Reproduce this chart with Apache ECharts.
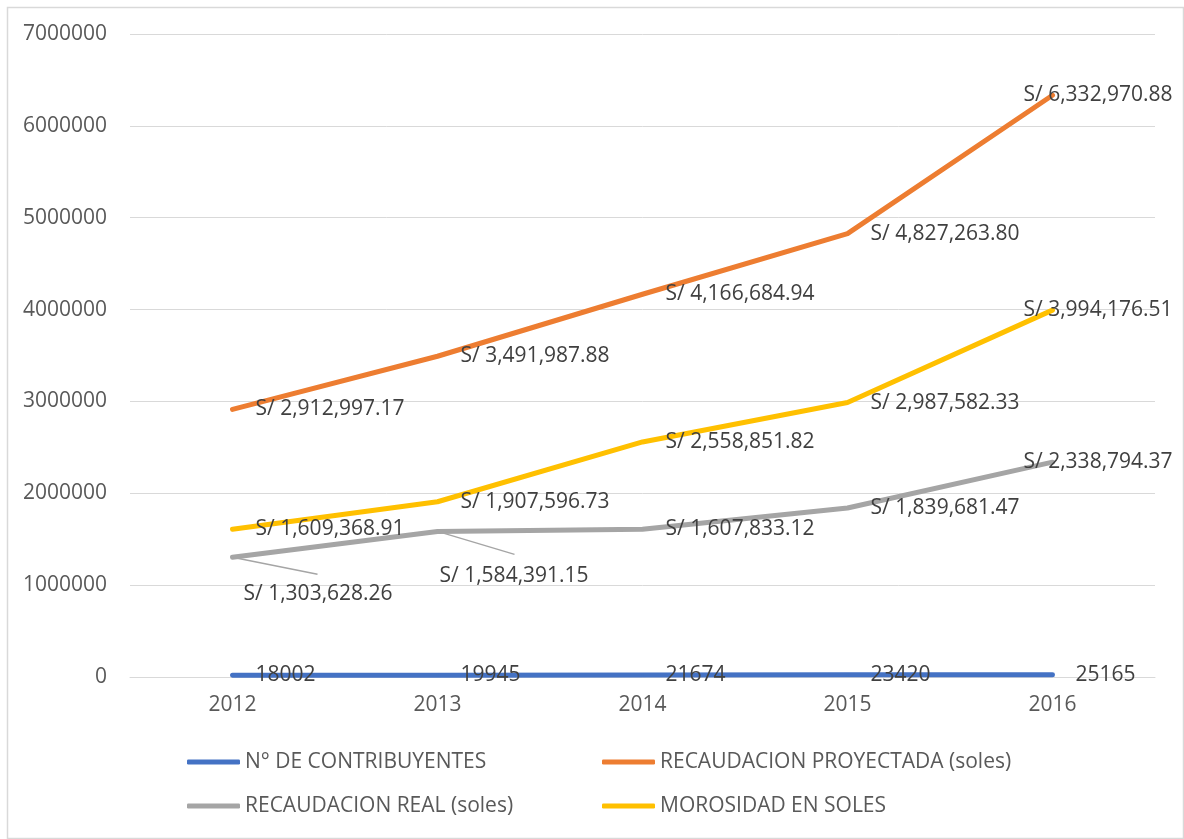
<!DOCTYPE html>
<html>
<head>
<meta charset="utf-8">
<script src="https://cdn.jsdelivr.net/npm/echarts@6/dist/echarts.min.js"></script>
<style>
html,body{margin:0;padding:0;background:#fff;}
#chart{width:1184px;height:839px;}
</style>
</head>
<body>
<div id="chart"></div>
<script>
const years = ['2012', '2013', '2014', '2015', '2016'];
const contribuyentes = [18002, 19945, 21674, 23420, 25165];
const proyectada = [2912997.17, 3491987.88, 4166684.94, 4827263.80, 6332970.88];
const real = [1303628.26, 1584391.15, 1607833.12, 1839681.47, 2338794.37];
const morosidad = [1609368.91, 1907596.73, 2558851.82, 2987582.33, 3994176.51];
const yMin = 0, yMax = 7000000, yStep = 1000000;
const names = ['N° DE CONTRIBUYENTES', 'RECAUDACION PROYECTADA (soles)', 'RECAUDACION REAL (soles)', 'MOROSIDAD EN SOLES'];
const colors = ['#4472C4', '#ED7D31', '#A5A5A5', '#FFC000'];

const FONT = '"Open Sans", "Noto Sans", sans-serif';
const soles = v => 'S/ ' + Number(v).toLocaleString('en-US', {minimumFractionDigits: 2, maximumFractionDigits: 2});

function mkSeries(i, data, fmt, layoutFn) {
  return {
    name: names[i],
    type: 'line',
    data: data,
    symbol: 'circle',
    symbolSize: 2,
    showSymbol: true,
    itemStyle: {color: colors[i]},
    lineStyle: {color: colors[i], width: 5, cap: 'round', join: 'round'},
    label: {
      show: true, position: 'right', distance: 22,
      formatter: p => fmt(p.value),
      color: '#404040', fontFamily: FONT, fontSize: 21
    },
    labelLayout: layoutFn,
    emphasis: {disabled: true},
    z: 2 + i
  };
}

// label offsets (pixels) for moved labels, and their leader-line end offsets
const lastShift = p => p.dataIndex === 4 ? {dx: -52} : {};
const realMoves = {0: [-12, 37], 1: [-21, 45], 4: [-52, 0]};
const leaderEnds = {0: [85, 17], 1: [77, 23]};
const realShift = p => {
  const m = realMoves[p.dataIndex];
  return m ? {dx: m[0], dy: m[1]} : {};
};

const chart = echarts.init(document.getElementById('chart'), null, {renderer: 'canvas'});
chart.setOption({
  animation: false,
  backgroundColor: '#fff',
  graphic: [{
    type: 'rect', left: 5, top: 5,
    shape: {width: 1176, height: 831},
    style: {fill: 'none', stroke: '#D9D9D9', lineWidth: 1.5},
    silent: true, z: 0
  }],
  grid: {left: 130, right: 29, top: 34, bottom: 162},
  xAxis: {
    type: 'category', data: years, boundaryGap: true,
    axisLine: {show: true, lineStyle: {color: '#D9D9D9', width: 1}},
    axisTick: {show: false},
    axisLabel: {color: '#595959', fontFamily: FONT, fontSize: 21, margin: 18}
  },
  yAxis: {
    type: 'value', min: yMin, max: yMax, interval: yStep,
    axisLine: {show: false}, axisTick: {show: false},
    splitLine: {lineStyle: {color: '#D9D9D9', width: 1}},
    axisLabel: {color: '#595959', fontFamily: FONT, fontSize: 21, margin: 23, formatter: v => String(v)}
  },
  legend: [
    {
      orient: 'vertical', left: 187, top: 750, itemGap: 20, padding: 0,
      data: [names[0], names[2]],
      icon: 'roundRect', itemWidth: 53, itemHeight: 5,
      textStyle: {color: '#595959', fontFamily: FONT, fontSize: 21, lineHeight: 24},
      selectedMode: false
    },
    {
      orient: 'vertical', left: 602, top: 750, itemGap: 20, padding: 0,
      data: [names[1], names[3]],
      icon: 'roundRect', itemWidth: 53, itemHeight: 5,
      textStyle: {color: '#595959', fontFamily: FONT, fontSize: 21, lineHeight: 24},
      selectedMode: false
    }
  ],
  series: [
    {
      type: 'custom',
      silent: true,
      z: 1,
      data: Object.keys(leaderEnds).map(k => [Number(k), real[Number(k)]]),
      renderItem: (params, api) => {
        const idx = api.value(0);
        const p = api.coord([idx, api.value(1)]);
        const e = leaderEnds[idx];
        return {
          type: 'line',
          shape: {x1: p[0], y1: p[1], x2: p[0] + e[0], y2: p[1] + e[1]},
          style: {stroke: '#A5A5A5', lineWidth: 1.3}
        };
      }
    },
    mkSeries(0, contribuyentes, v => String(v), null),
    mkSeries(1, proyectada, soles, lastShift),
    mkSeries(2, real, soles, realShift),
    mkSeries(3, morosidad, soles, lastShift)
  ]
});
</script>
</body>
</html>
